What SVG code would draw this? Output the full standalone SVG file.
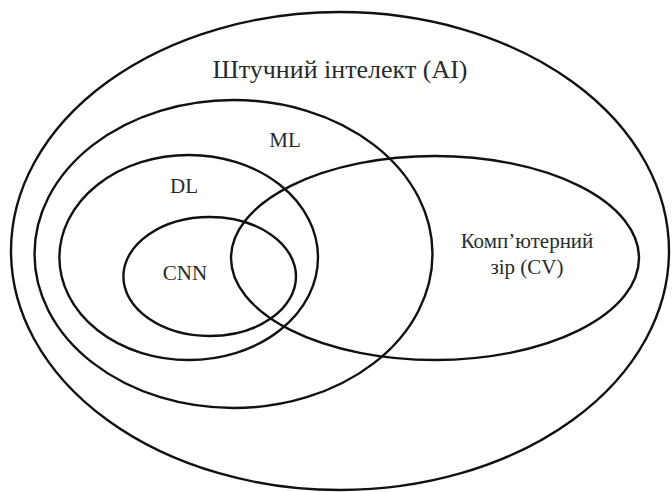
<svg xmlns="http://www.w3.org/2000/svg" width="672" height="492" viewBox="0 0 672 492">
<style>
.e{fill:none;stroke:#111;stroke-width:2.4}
text{font-family:'Liberation Serif','Times New Roman',serif;fill:#2a2a2a;text-anchor:middle;font-size:21px}
</style>
<rect width="672" height="492" fill="#fff"/>
<g id="ai"><ellipse class="e" cx="340" cy="251" rx="329" ry="239"/><text x="340" y="78" style="font-size:26px">Штучний інтелект (AI)</text></g>
<g id="ml"><ellipse class="e" cx="233.5" cy="254" rx="199" ry="154"/><text x="285" y="147">ML</text></g>
<g id="dl"><ellipse class="e" cx="188.7" cy="257.5" rx="129.3" ry="102.5"/><text x="184" y="193">DL</text></g>
<g id="cnn"><ellipse class="e" cx="209.7" cy="276.5" rx="86.3" ry="59.5"/><text x="185" y="280">CNN</text></g>
<g id="cv"><ellipse class="e" cx="435" cy="258" rx="204" ry="102"/><text x="527" y="248">Комп’ютерний</text><text x="527" y="274">зір (CV)</text></g>
<g id="connectors"/>
</svg>
